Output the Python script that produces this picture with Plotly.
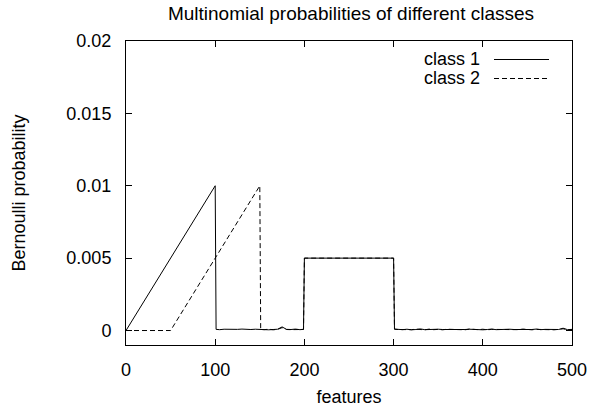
import plotly.graph_objects as go

# ---- data ----
# class 1: ramp 0..100, noise floor, plateau 200..300, noise floor
c1_x = [0, 100, 101, 105, 110, 115, 120, 125, 130, 135, 140, 145, 150, 155, 160, 165, 170, 175, 180, 185, 190, 195, 199,
        200, 300, 301, 305, 310, 315, 320, 325, 330, 335, 340, 345, 350, 355, 360, 365, 370, 375, 380, 385, 390, 395,
        400, 405, 410, 415, 420, 425, 430, 435, 440, 445, 450, 455, 460, 465, 470, 475, 480, 485, 490, 495, 500]
c1_y = [0.0, 0.01, 0.00008, 0.00006, 0.00009, 0.00007, 0.00005, 0.00008, 0.0001, 0.00006, 0.00007, 0.00009, 0.00006,
        0.00008, 0.00005, 0.00007, 0.00009, 0.00025, 0.00008, 0.00007, 0.0001, 0.00006, 0.00008,
        0.005, 0.005, 0.0001, 0.00008, 0.00006, 0.00009, 0.00005, 0.00007, 0.00011, 0.00006, 0.00008, 0.00005, 0.00009,
        0.00007, 0.00006, 0.0001, 0.00005, 0.00008, 0.00007, 0.00009, 0.00006, 0.00008, 0.00005, 0.00007, 0.0001,
        0.00006, 0.00008, 0.00005, 0.00009, 0.00007, 0.00006, 0.00008, 0.00005, 0.00007, 0.0001, 0.00006, 0.00008,
        0.00009, 0.00005, 0.00007, 0.00016, 0.00006, 0.00008]

# class 2: zero 0..50, ramp 50..150, noise floor, plateau 200..300, noise floor
c2_x = [0, 50, 150, 151, 155, 160, 165, 170, 175, 180, 185, 190, 195, 199,
        200, 300, 301, 305, 310, 315, 320, 325, 330, 335, 340, 345, 350, 355, 360, 365, 370, 375, 380, 385, 390, 395,
        400, 405, 410, 415, 420, 425, 430, 435, 440, 445, 450, 455, 460, 465, 470, 475, 480, 485, 490, 495, 500]
c2_y = [0.0, 0.0, 0.01, 0.00007, 0.00006, 0.00009, 0.00005, 0.00008, 0.0002, 0.00007, 0.00006, 0.00009, 0.00007,
        0.00008,
        0.005, 0.005, 0.00009, 0.00007, 0.00005, 0.00008, 0.00006, 0.00009, 0.00007, 0.00005, 0.0001, 0.00006, 0.00008,
        0.00005, 0.00009, 0.00007, 0.00006, 0.00008, 0.00005, 0.0001, 0.00007, 0.00006, 0.00009, 0.00005, 0.00008,
        0.00007, 0.00006, 0.00009, 0.00005, 0.00008, 0.00006, 0.0001, 0.00007, 0.00005, 0.00008, 0.00006, 0.00009,
        0.00007, 0.00005, 0.00008, 0.00012, 0.00006, 0.00007]

series_names = ["class 1", "class 2"]
x_ticks = [0, 100, 200, 300, 400, 500]
y_ticks = [0, 0.005, 0.01, 0.015, 0.02]
y_tick_labels = ["0", "0.005", "0.01", "0.015", "0.02"]

FONT = "Liberation Sans, Arial, sans-serif"
W, H = 610, 409
L, R, T, B = 126, 38, 41, 64
PW, PH = W - L - R, H - T - B
DASH = "5px,3px"

fig = go.Figure()
fig.add_trace(go.Scatter(x=c1_x, y=c1_y, mode="lines", name=series_names[0],
                         line=dict(color="black", width=1), showlegend=False))
fig.add_trace(go.Scatter(x=c2_x, y=c2_y, mode="lines", name=series_names[1],
                         line=dict(color="black", width=1, dash=DASH), showlegend=False))

axis_common = dict(showgrid=False, zeroline=False, showline=True, linecolor="black", linewidth=1,
                   mirror="ticks", ticks="inside", ticklen=6, tickcolor="black", tickwidth=1,
                   automargin=False,
                   tickfont=dict(family=FONT, size=18, color="black"))


def px_x(p):
    return (p - L) / PW


def px_y(p):
    return (H - B - p) / PH


# gnuplot-style key: text on the left, line sample on the right
annotations = []
shapes = []
for name, row_y, dash in [(series_names[0], 59.5, "solid"), (series_names[1], 78.5, DASH)]:
    annotations.append(dict(text=name, xref="paper", yref="paper", x=px_x(482), y=px_y(row_y),
                            xanchor="right", yanchor="middle", showarrow=False,
                            font=dict(family=FONT, size=18, color="black")))
    shapes.append(dict(type="line", xref="paper", yref="paper", x0=px_x(494), x1=px_x(549),
                       y0=px_y(row_y), y1=px_y(row_y), line=dict(color="black", width=1, dash=dash)))

fig.update_layout(
    width=W, height=H,
    margin=dict(l=L, r=R, t=T, b=B),
    paper_bgcolor="white", plot_bgcolor="white",
    title=dict(text="Multinomial probabilities of different classes", x=351 / W, xanchor="center",
               y=1 - 13 / H, yanchor="middle", font=dict(family=FONT, size=19, color="black")),
    xaxis=dict(range=[0, 500], tickvals=x_ticks, ticktext=[str(v) for v in x_ticks],
               ticklabelstandoff=8,
               title=dict(text="features", font=dict(family=FONT, size=18, color="black"), standoff=11),
               **axis_common),
    yaxis=dict(range=[-0.001, 0.02], tickvals=y_ticks, ticktext=y_tick_labels,
               ticklabelstandoff=10,
               title=dict(text="Bernoulli probability", font=dict(family=FONT, size=18, color="black"), standoff=36),
               **axis_common),
    annotations=annotations,
    shapes=shapes,
    showlegend=False,
)

fig.write_html("out.html")
